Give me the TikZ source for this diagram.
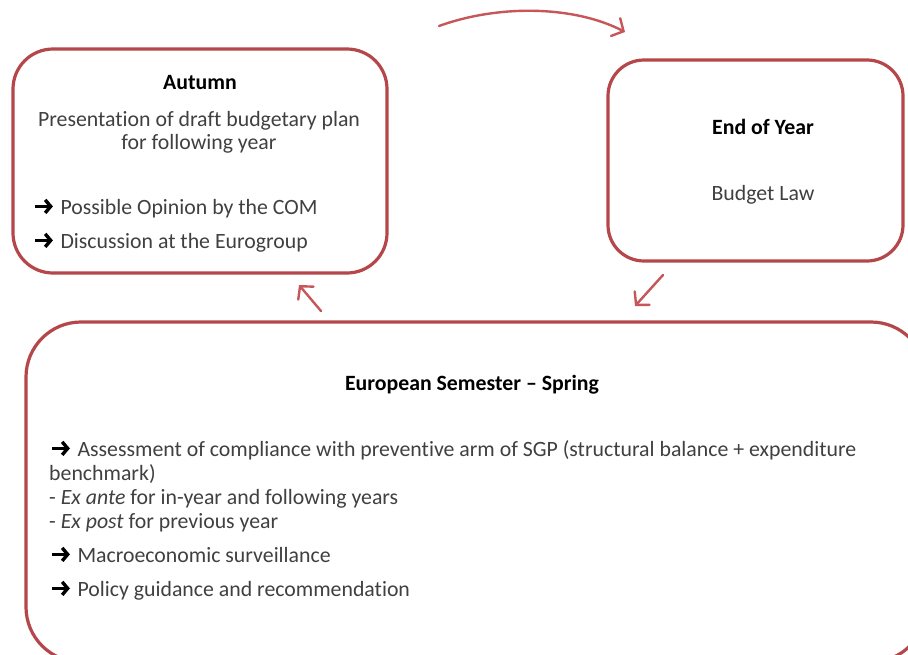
\documentclass[tikz,border=0pt]{standalone}
\usepackage{fontspec}
\setmainfont{Carlito}[Ligatures=NoCommon]
\usetikzlibrary{arrows.meta}
\definecolor{boxred}{HTML}{B5474A}
\definecolor{arrred}{HTML}{C75659}
\definecolor{txtgray}{HTML}{404040}
\newcommand{\harrow}{\tikz[baseline={(0pt,-8pt)}]{\draw[black, line width=3.4pt, -{Straight Barb[length=5.5pt,width=13pt,line width=3.4pt]}] (0pt,0pt) -- (18pt,0pt);}\hspace{1pt}}
\newcommand{\mainsize}{\fontsize{21.8}{24}\selectfont}
\tikzset{
  phasebox/.style={draw=boxred, line width=3.2pt, fill=white, inner sep=0pt},
  bodytext/.style={text=txtgray, inner sep=0pt},
  titletext/.style={text=black, font=\mainsize\bfseries, inner sep=0pt},
  cyclearrow/.style={draw=arrred, line width=2.4pt, line cap=round, -{Straight Barb[length=9pt,width=20pt,line cap=round]}},
}
\begin{document}
\begin{tikzpicture}[x=1pt,y=-1pt, font=\mainsize]
\useasboundingbox (0,0) rectangle (908,654);
\clip (0,0) rectangle (908,654);
% boxes
\node[phasebox, minimum width=374pt, minimum height=224pt, rounded corners=40pt] (autumn) at (200,161) {};
\node[phasebox, minimum width=295pt, minimum height=201pt, rounded corners=36pt] (endyear) at (755.5,160.5) {};
\node[phasebox, minimum width=900pt, minimum height=340pt, rounded corners=55pt] (spring) at (476,492) {};
% autumn text
\node[titletext, anchor=mid] (t1) at (200,87) {Autumn};
\node[bodytext, anchor=mid] (t2) at (199,124) {Presentation of draft budgetary plan};
\node[bodytext, anchor=mid] (t3) at (199,147) {for following year};
\node[bodytext, anchor=mid west] (t4) at (33,212) {\harrow\ Possible Opinion by the COM};
\node[bodytext, anchor=mid west] (t5) at (33,246) {\harrow\ Discussion at the Eurogroup};
% end of year text
\node[titletext, anchor=mid] (e1) at (763,132) {End of Year};
\node[bodytext, anchor=mid] (e2) at (763,198) {Budget Law};
% spring text
\node[titletext, anchor=mid] (s1) at (472,388) {European Semester -- Spring};
\node[bodytext, anchor=mid west] (s2) at (50,454) {\harrow\ Assessment of compliance with preventive arm of SGP (structural balance + expenditure};
\node[bodytext, anchor=mid west] (s3) at (49,478) {benchmark)};
\node[bodytext, anchor=mid west] (s4) at (49,502) {- \textit{Ex ante} for in-year and following years};
\node[bodytext, anchor=mid west] (s5) at (49,526) {- \textit{Ex post} for previous year};
\node[bodytext, anchor=mid west] (s6) at (50,560) {\harrow\ Macroeconomic surveillance};
\node[bodytext, anchor=mid west] (s7) at (50,594) {\harrow\ Policy guidance and recommendation};
% connectors
\coordinate (a1s) at (439,26);
\coordinate (a1e) at (625,32);
\coordinate (a2s) at (663,275);
\coordinate (a2e) at (635,306);
\coordinate (a3s) at (321,311);
\coordinate (a3e) at (299,285);
\draw[cyclearrow] (a1s) .. controls (500,4) and (575,6) .. (a1e);
\draw[cyclearrow] (a2s) -- (a2e);
\draw[cyclearrow] (a3s) -- (a3e);
\end{tikzpicture}
\end{document}
